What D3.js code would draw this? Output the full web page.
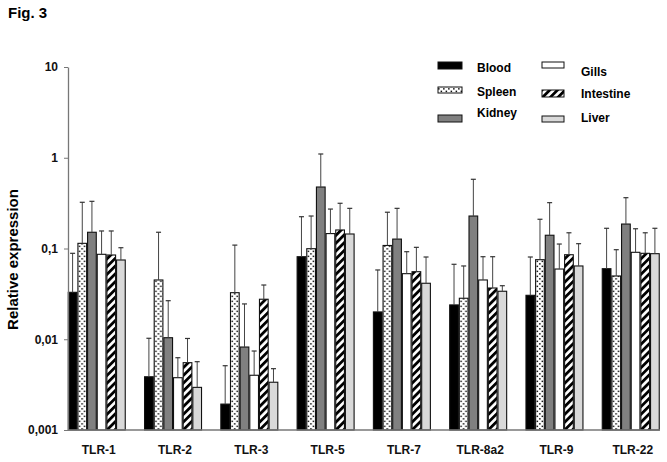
<!DOCTYPE html>
<html>
<head>
<meta charset="utf-8">
<script src="https://cdn.jsdelivr.net/npm/d3@7"></script>
<style>
  html, body { margin: 0; padding: 0; background: #fff; }
  svg { display: block; font-family: "Liberation Sans", Arial, Helvetica, sans-serif; font-weight: bold; }
</style>
</head>
<body>
<svg id="chart" width="667" height="462"></svg>
<script>
const categories = ["TLR-1", "TLR-2", "TLR-3", "TLR-5", "TLR-7", "TLR-8a2", "TLR-9", "TLR-22"];
const tissues = ["Blood", "Spleen", "Kidney", "Gills", "Intestine", "Liver"];

const blood        = [0.0329, 0.00386, 0.00193, 0.0812, 0.0200, 0.0239, 0.0305, 0.0599];
const bloodErr     = [0.0885, 0.01025, 0.00511, 0.224, 0.058, 0.067, 0.0806, 0.167];
const spleen       = [0.114, 0.045, 0.0326, 0.0995, 0.108, 0.0283, 0.0753, 0.0498];
const spleenErr    = [0.323, 0.151, 0.109, 0.228, 0.251, 0.0642, 0.21, 0.097];
const kidney       = [0.151, 0.0104, 0.00821, 0.476, 0.127, 0.228, 0.140, 0.186];
const kidneyErr    = [0.331, 0.0266, 0.0245, 1.10, 0.277, 0.579, 0.320, 0.363];
const gills        = [0.0863, 0.00377, 0.00401, 0.146, 0.0528, 0.045, 0.0594, 0.0908];
const gillsErr     = [0.156, 0.00626, 0.00742, 0.272, 0.0922, 0.0812, 0.112, 0.165];
const intestine    = [0.0848, 0.00552, 0.0276, 0.160, 0.0555, 0.0367, 0.0854, 0.0885];
const intestineErr = [0.156, 0.0102, 0.0396, 0.315, 0.103, 0.0812, 0.149, 0.149];
const liver        = [0.0747, 0.00295, 0.00336, 0.1445, 0.0414, 0.0338, 0.0642, 0.0877];
const liverErr     = [0.102, 0.00566, 0.00474, 0.277, 0.0806, 0.0389, 0.113, 0.167];

const yTicks = [0.001, 0.01, 0.1, 1, 10];
const yTickLabels = ["0,001", "0,01", "0,1", "1", "10"];

const seriesValues = [blood, spleen, kidney, gills, intestine, liver];
const seriesErrors = [bloodErr, spleenErr, kidneyErr, gillsErr, intestineErr, liverErr];

const svg = d3.select("#chart");
const defs = svg.append("defs");

// dotted pattern (Spleen)
const dots = defs.append("pattern").attr("id", "dots")
  .attr("patternUnits", "userSpaceOnUse").attr("width", 5).attr("height", 5);
dots.append("rect").attr("width", 5).attr("height", 5).attr("fill", "#fff");
dots.append("rect").attr("x", 0.6).attr("y", 0.6).attr("width", 1.5).attr("height", 1.5).attr("fill", "#111");
dots.append("rect").attr("x", 3.1).attr("y", 3.1).attr("width", 1.5).attr("height", 1.5).attr("fill", "#111");

// diagonal stripes (Intestine)
const stripes = defs.append("pattern").attr("id", "stripes")
  .attr("patternUnits", "userSpaceOnUse").attr("width", 5.5).attr("height", 5.5)
  .attr("patternTransform", "rotate(45)");
stripes.append("rect").attr("width", 5.5).attr("height", 5.5).attr("fill", "#fff");
stripes.append("rect").attr("width", 2.8).attr("height", 5.5).attr("fill", "#000");

const fills = ["#000000", "url(#dots)", "#808080", "#ffffff", "url(#stripes)", "#d9d9d9"];

const plotLeft = 68, plotRight = 660, plotTop = 67, plotBottom = 430;

const y = d3.scaleLog().domain([0.001, 10]).range([plotBottom, plotTop]);
const x0 = d3.scaleBand().domain(categories).range([plotLeft - 0.5, plotRight])
  .paddingInner(0.253).paddingOuter(0.01);
const x1 = d3.scaleBand().domain(tissues).range([0, x0.bandwidth()]).paddingInner(0.1);

// Fig. label
svg.append("text").attr("x", 8).attr("y", 18).attr("font-size", 15).text("Fig. 3");

// bars
const groups = svg.append("g").selectAll("g").data(categories).join("g")
  .attr("transform", d => `translate(${x0(d)},0)`);

tissues.forEach((t, si) => {
  groups.append("rect")
    .attr("x", x1(t))
    .attr("width", x1.bandwidth())
    .attr("y", (d, i) => y(seriesValues[si][i]))
    .attr("height", (d, i) => plotBottom - y(seriesValues[si][i]))
    .attr("fill", fills[si])
    .attr("stroke", "#111")
    .attr("stroke-width", 1.1);
});

// error bars
tissues.forEach((t, si) => {
  const cx = x1(t) + x1.bandwidth() / 2;
  groups.append("line")
    .attr("x1", cx).attr("x2", cx)
    .attr("y1", (d, i) => y(seriesValues[si][i]))
    .attr("y2", (d, i) => y(seriesErrors[si][i]))
    .attr("stroke", "#444").attr("stroke-width", 1);
  groups.append("line")
    .attr("x1", cx - 2.5).attr("x2", cx + 2.5)
    .attr("y1", (d, i) => y(seriesErrors[si][i]))
    .attr("y2", (d, i) => y(seriesErrors[si][i]))
    .attr("stroke", "#333").attr("stroke-width", 1.2);
});

// y axis
const yAxis = d3.axisLeft(y).tickValues(yTicks)
  .tickFormat((d, i) => yTickLabels[i]).tickSize(4).tickSizeOuter(0).tickPadding(6);
const gy = svg.append("g").attr("transform", `translate(${plotLeft},0)`).call(yAxis);
gy.select(".domain").attr("stroke", "#777").attr("stroke-width", 1.3);
gy.selectAll(".tick line").attr("stroke", "#777");
gy.selectAll(".tick text").attr("font-size", 12).attr("font-weight", "bold")
  .attr("font-family", "Liberation Sans, Arial, sans-serif").attr("fill", "#111");

// x axis
const xAxis = d3.axisBottom(x0).tickSize(0).tickSizeOuter(0).tickPadding(15);
const gx = svg.append("g").attr("transform", `translate(0,${plotBottom})`).call(xAxis);
gx.select(".domain").attr("stroke", "#777").attr("stroke-width", 1.3)
  .attr("d", `M${plotLeft},0H${plotRight}`);
gx.selectAll(".tick text").attr("font-size", 12).attr("font-weight", "bold")
  .attr("font-family", "Liberation Sans, Arial, sans-serif").attr("fill", "#111")
  .attr("dx", 2);

// y title
svg.append("text")
  .attr("transform", `translate(18,${(plotTop + plotBottom) / 2 + 11}) rotate(-90)`)
  .attr("text-anchor", "middle").attr("font-size", 15).text("Relative expression");

// legend
const legendLayout = [
  { sx: 438, sy: 62, sw: 24, sh: 7, tx: 477, ty: 72 },
  { sx: 438, sy: 87, sw: 24, sh: 6, tx: 477, ty: 96 },
  { sx: 438, sy: 115, sw: 24, sh: 7, tx: 477, ty: 117 },
  { sx: 542, sy: 62, sw: 22, sh: 6, tx: 581, ty: 76 },
  { sx: 542, sy: 90, sw: 22, sh: 7, tx: 581, ty: 98 },
  { sx: 542, sy: 116, sw: 22, sh: 6, tx: 581, ty: 122 }
];
const lg = svg.append("g");
tissues.forEach((t, i) => {
  const L = legendLayout[i];
  lg.append("rect").attr("x", L.sx).attr("y", L.sy).attr("width", L.sw).attr("height", L.sh)
    .attr("fill", fills[i]).attr("stroke", "#111").attr("stroke-width", 1);
  lg.append("text").attr("x", L.tx).attr("y", L.ty).attr("font-size", 12).text(t);
});
</script>
</body>
</html>
